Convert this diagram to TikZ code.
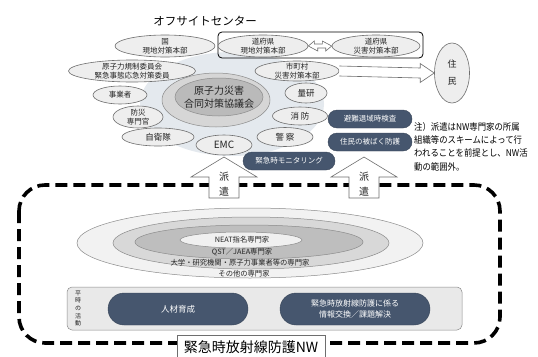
\documentclass[tikz,border=0pt]{standalone}
\usepackage{fontspec}
\setmainfont{Noto Sans CJK JP}
\newfontfamily\notefont{Noto Sans CJK JP}[FakeStretch=0.9]
\usetikzlibrary{shapes.geometric,calc}
\definecolor{navy}{RGB}{70,86,110}
\definecolor{bgc}{RGB}{228,233,238}
\definecolor{ringc}{RGB}{214,214,214}
\definecolor{corec}{RGB}{186,186,186}
\definecolor{nodef}{RGB}{238,238,238}
\definecolor{edgec}{RGB}{110,110,110}
\definecolor{txtc}{RGB}{35,35,35}
\definecolor{bandc}{RGB}{233,233,233}
\definecolor{ringA}{RGB}{242,242,242}
\definecolor{ringB}{RGB}{216,216,216}
\definecolor{ringC}{RGB}{190,190,190}
\definecolor{ringD}{RGB}{240,240,240}
\tikzset{
  ell/.style 2 args={ellipse, draw=edgec, fill=nodef, line width=0.6pt, minimum width=#1, minimum height=#2, inner sep=0pt},
  txt/.style={font=\fontsize{7.5}{9}\selectfont, text=txtc, align=center, inner sep=0pt},
  pill/.style 2 args={rectangle, rounded corners=#2/2, fill=navy, draw=navy!80!black, minimum width=#1, minimum height=#2, inner sep=0pt, text=white, font=\fontsize{7.5}{9.5}\selectfont, align=center},
  hollow/.style={draw=edgec, fill=white, line width=0.6pt, line join=miter},
  ringsty/.style={draw=edgec!80, line width=0.5pt}
}
\begin{document}
\begin{tikzpicture}[x=1pt,y=-1pt]
\useasboundingbox (0,0) rectangle (538,356);
\fill[white] (0,0) rectangle (538,356);

% title
\node[font=\fontsize{11.5}{13}\selectfont, inner sep=0pt] (title) at (205,21) {オフサイトセンター};

% cluster background
\fill[bgc] (232,104) ellipse (92 and 52);
\filldraw[ringsty, fill=ringc] (216,100) ellipse (54 and 27);
\node[ellipse, draw=edgec!80, fill=corec, line width=0.5pt, minimum width=88pt, minimum height=38pt, inner sep=0pt,
      label={[txt, font=\fontsize{10}{12.5}\selectfont]center:{原子力災害\\合同対策協議会}}] (kyogi) at (219,97) {};

% prefecture box
\draw[line width=0.8pt, rounded corners=4pt] (218,32) rectangle (423,58);

% surrounding nodes
\node[ell={100pt}{22pt}, label={[txt]center:{国\\現地対策本部}}] (kuni) at (165,46) {};
\node[ell={90pt}{22pt}, label={[txt]center:{道府県\\現地対策本部}}] (pref1) at (263,46) {};
\node[ell={88pt}{22pt}, label={[txt]center:{道府県\\災害対策本部}}] (pref2) at (376,46) {};
\node[ell={84pt}{20pt}, label={[txt]center:{市町村\\災害対策本部}}] (shicho) at (297,71) {};
\node[ell={35pt}{60pt}, label={[txt, font=\fontsize{9}{17}\selectfont]center:{住\\民}}] (jumin) at (452,73) {};
\node[ell={127pt}{22pt}, label={[txt]center:{原子力規制委員会\\緊急事態応急対策委員}}] (genshi) at (132,71) {};
\node[ell={54pt}{18pt}, label={[txt]center:{事業者}}] (jigyo) at (120,95) {};
\node[ell={50pt}{22pt}, label={[txt]center:{防災\\専門官}}] (bosai) at (138,117) {};
\node[ell={72pt}{18pt}, label={[txt, font=\fontsize{8.5}{10}\selectfont]center:{自衛隊}}] (jiei) at (158,137) {};
\node[ell={56pt}{20pt}, label={[txt, font=\fontsize{10}{12}\selectfont]center:{EMC}}] (emc) at (224,145) {};
\node[ell={42pt}{20pt}, label={[txt, font=\fontsize{8.5}{10}\selectfont]center:{量研}}] (ryoken) at (306,93) {};
\node[ell={55pt}{18pt}, label={[txt, font=\fontsize{8.5}{10}\selectfont]center:{消\ 防}}] (shobo) at (300,116) {};
\node[ell={56pt}{19pt}, label={[txt, font=\fontsize{8.5}{10}\selectfont]center:{警\ 察}}] (keisatsu) at (285,137) {};

% double arrow between prefecture nodes
\draw[hollow] (pref1.east) -- ++(6,-5) -- ++(0,3) -- ++(8,0) -- ++(0,-3) -- (pref2.west) -- ++(-6,5) -- ++(0,-3) -- ++(-8,0) -- ++(0,3) -- cycle;

% hollow arrow to residents
\draw[hollow] ($(shicho.east)+(0,-5)$) -- ($(jumin.west)+(-14,-5)$) -- ($(jumin.west)+(-14,-9.5)$) -- (jumin.west)
  -- ($(jumin.west)+(-14,9.5)$) -- ($(jumin.west)+(-14,5)$) -- ($(shicho.east)+(0,5)$);

% navy pills
\node[pill={84pt}{18pt}] (hinan) at (370,119) {避難退域時検査};
\node[pill={84pt}{18pt}] (hibaku) at (370,142) {住民の被ばく防護};
\node[pill={92pt}{18pt}] (monitor) at (289,161) {緊急時モニタリング};

% note
\node[anchor=north west, inner sep=0pt, align=left, font=\notefont\fontsize{9.3}{13.3}\selectfont] (note) at (414,122)
  {注）派遣はNW専門家の所属\\組織等のスキームによって行\\われることを前提とし、NW活\\動の範囲外。};

% dashed network frame
\draw[line width=3.6pt, dash pattern=on 12pt off 6pt, rounded corners=26pt] (19,185) rectangle (500,343);

% up arrows
\coordinate (tipL) at (224,157);
\coordinate (tipR) at (364,157);
\draw[hollow] (tipL) -- ++(33,20) -- ++(-18,0) -- ++(0,21) -- ++(-30,0) -- ++(0,-21) -- ++(-18,0) -- cycle;
\draw[hollow] (tipR) -- ++(33,20) -- ++(-18,0) -- ++(0,21) -- ++(-30,0) -- ++(0,-21) -- ++(-18,0) -- cycle;
\node[txt, font=\fontsize{10}{15}\selectfont] (hakenL) at ($(tipL)+(0,27)$) {派\\遣};
\node[txt, font=\fontsize{10}{15}\selectfont] (hakenR) at ($(tipR)+(0,27)$) {派\\遣};

% expert ellipses
\filldraw[ringsty, fill=ringA] (250,243) ellipse (173 and 35);
\filldraw[ringsty, fill=ringB] (251,243) ellipse (138 and 26);
\filldraw[ringsty, fill=ringC] (249,242) ellipse (114 and 17);
\filldraw[ringsty, fill=ringD] (241,240) ellipse (61 and 8);
\node[txt, font=\fontsize{7.3}{8}\selectfont] (neat) at (242,240) {NEAT指名専門家};
\node[txt, font=\fontsize{7.3}{8}\selectfont] (qst) at (242,252) {QST／JAEA専門家};
\node[txt, font=\fontsize{7.3}{8}\selectfont] (univ) at (240,263) {大学・研究機関・原子力事業者等の専門家};
\node[txt, font=\fontsize{7.3}{8}\selectfont] (other) at (244,274) {その他の専門家};

% peacetime band
\draw[draw=edgec!80, fill=bandc, line width=0.5pt, rounded corners=5pt] (67,287) rectangle (462,330);
\node[txt, font=\fontsize{6}{7.6}\selectfont] (heiji) at (78,308.5) {平\\時\\の\\活\\動};
\node[pill={140pt}{32pt}, font=\fontsize{8.5}{10}\selectfont] (jinzai) at (178,309) {人材育成};
\node[pill={150pt}{32pt}, font=\fontsize{8}{11}\selectfont] (joho) at (355,309) {緊急時放射線防護に係る\\情報交換／課題解決};

% network label
\node[draw=edgec, fill=white, line width=0.6pt, minimum width=148pt, minimum height=24pt, inner sep=0pt,
      font=\fontsize{14}{16}\selectfont] (nwlabel) at (251,347) {緊急時放射線防護NW};
\end{tikzpicture}
\end{document}
